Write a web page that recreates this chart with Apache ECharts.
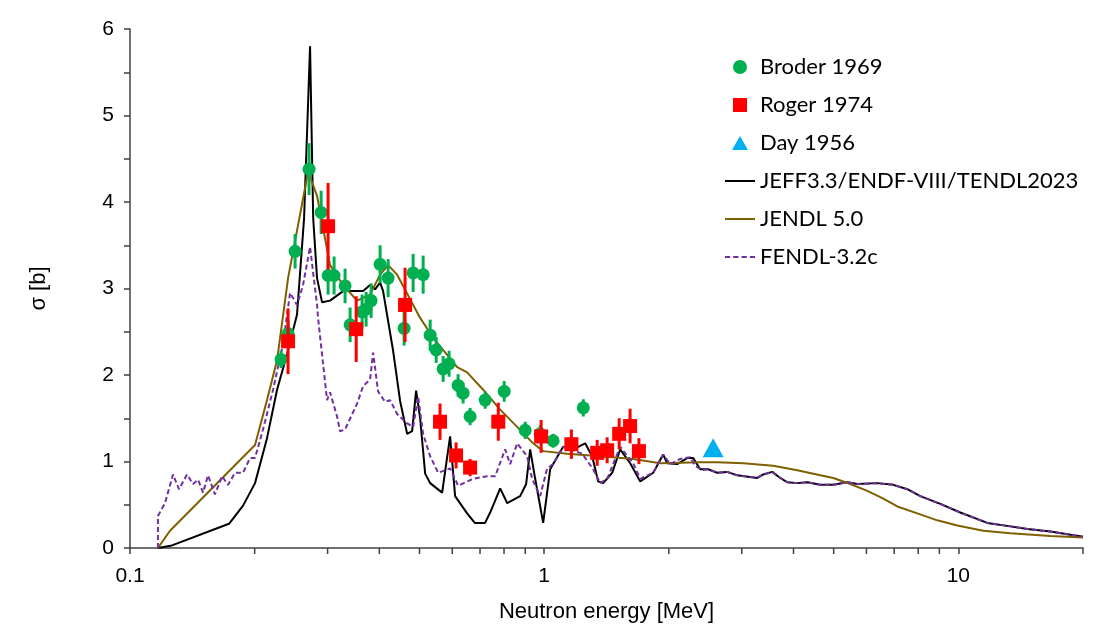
<!DOCTYPE html>
<html>
<head>
<meta charset="utf-8">
<script src="https://cdn.jsdelivr.net/npm/echarts@6/dist/echarts.min.js"></script>
<style>
  html, body { margin: 0; padding: 0; background: #fff; }
  #chart { width: 1098px; height: 628px; }
</style>
</head>
<body>
<div id="chart"></div>
<script>
// energy [MeV], sigma [b], error [b]
const broder1969 = [
  [0.2316, 2.18, 0.10], [0.2408, 2.48, 0.15], [0.2504, 3.43, 0.20], [0.2706, 4.38, 0.30],
  [0.2894, 3.88, 0.25], [0.3008, 3.15, 0.22], [0.3110, 3.15, 0.22], [0.3306, 3.03, 0.20],
  [0.3400, 2.58, 0.20], [0.3634, 2.73, 0.20], [0.3716, 2.76, 0.20], [0.3821, 2.86, 0.20],
  [0.4017, 3.28, 0.22], [0.4200, 3.12, 0.22], [0.4590, 2.54, 0.20], [0.4826, 3.18, 0.22],
  [0.5103, 3.16, 0.22], [0.5306, 2.46, 0.18], [0.5486, 2.29, 0.15], [0.5702, 2.07, 0.15],
  [0.5895, 2.13, 0.15], [0.6197, 1.88, 0.13], [0.6372, 1.79, 0.12], [0.6625, 1.52, 0.10],
  [0.7204, 1.71, 0.10], [0.8008, 1.81, 0.12], [0.8997, 1.36, 0.10], [0.9779, 1.32, 0.10],
  [1.051, 1.24, 0.08], [1.243, 1.62, 0.10]
];
const roger1974 = [
  [0.2408, 2.39, 0.38], [0.3008, 3.72, 0.50], [0.3517, 2.53, 0.38], [0.4615, 2.81, 0.43],
  [0.5605, 1.46, 0.21], [0.6128, 1.07, 0.15], [0.6625, 0.93, 0.10], [0.7749, 1.46, 0.22],
  [0.9834, 1.29, 0.19], [1.1634, 1.20, 0.17], [1.3428, 1.10, 0.15], [1.4192, 1.13, 0.15],
  [1.5175, 1.32, 0.18], [1.6124, 1.41, 0.20], [1.6936, 1.12, 0.15]
];
const day1956 = [[2.559, 1.16]];

// evaluated curves above ~2.4 MeV are identical for JEFF and FENDL
const commonTail = [
  [2.4072, 0.90], [2.4890, 0.91], [2.6172, 0.87], [2.7669, 0.88], [2.9255, 0.84],
  [3.2697, 0.81], [3.3806, 0.85], [3.5536, 0.88], [3.7154, 0.81], [3.8637, 0.76],
  [4.0842, 0.75], [4.3178, 0.76], [4.6416, 0.73], [4.9906, 0.73], [5.3951, 0.76],
  [5.7016, 0.74], [6.3740, 0.75], [6.9663, 0.73], [7.5313, 0.68], [8.0955, 0.60],
  [9.0447, 0.51], [10.112, 0.41], [11.749, 0.29], [13.355, 0.25], [14.678, 0.22],
  [16.681, 0.19], [20, 0.13]
];
const jeff33 = [
  [0.1168, 0], [0.1263, 0.03], [0.1734, 0.28], [0.1875, 0.49], [0.2004, 0.75],
  [0.2142, 1.27], [0.2265, 1.83], [0.2394, 2.24], [0.2531, 2.70], [0.2632, 3.81],
  [0.2721, 5.80], [0.2769, 3.81], [0.2829, 3.12], [0.2909, 2.84], [0.3041, 2.86],
  [0.3270, 2.97], [0.3534, 2.97], [0.3654, 2.97], [0.3799, 3.04], [0.3907, 2.99],
  [0.4017, 3.07], [0.4084, 2.97], [0.4318, 2.28], [0.4489, 1.70], [0.4668, 1.32],
  [0.4799, 1.35], [0.4907, 1.82], [0.5018, 1.50], [0.5160, 0.86], [0.5305, 0.75],
  [0.5671, 0.64], [0.5928, 1.29], [0.6095, 0.60], [0.6516, 0.40], [0.6800, 0.29],
  [0.7200, 0.29], [0.7407, 0.41], [0.7830, 0.69], [0.8140, 0.52], [0.8750, 0.60],
  [0.9047, 0.74], [0.9251, 1.14], [0.9513, 0.80], [0.9945, 0.29], [1.0339, 0.91],
  [1.0513, 0.97], [1.1113, 1.17], [1.1749, 1.14], [1.2560, 1.21], [1.3060, 1.06],
  [1.3503, 0.77], [1.3884, 0.75], [1.4598, 0.87], [1.5262, 1.14], [1.6134, 0.98],
  [1.7060, 0.77], [1.8336, 0.87], [1.9382, 1.08], [1.9820, 0.98], [2.0953, 0.97],
  [2.2148, 1.04], [2.2900, 1.04], [2.3807, 0.91]
].concat(commonTail);
const jendl50 = [
  [0.1168, 0], [0.1249, 0.20], [0.2004, 1.19], [0.2142, 1.71], [0.2265, 2.17],
  [0.2408, 3.12], [0.2692, 4.35], [0.2829, 4.07], [0.3041, 3.27], [0.3270, 3.04],
  [0.3534, 2.86], [0.3799, 2.93], [0.4017, 3.16], [0.4200, 3.27], [0.4415, 3.16],
  [0.5018, 2.66], [0.5395, 2.43], [0.6165, 2.09], [0.6516, 2.03], [0.7124, 1.83],
  [0.7830, 1.60], [0.8606, 1.40], [0.9406, 1.21], [0.9945, 1.12], [1.1364, 1.09],
  [1.3655, 1.06], [1.6406, 1.03], [1.9063, 0.98], [2.3807, 0.99], [2.6172, 0.99],
  [3.0248, 0.98], [3.5734, 0.95], [4.0842, 0.90], [4.6416, 0.84], [4.9906, 0.81],
  [5.4856, 0.74], [6.0282, 0.66], [6.5905, 0.57], [7.1236, 0.48], [7.9616, 0.40],
  [8.8953, 0.32], [9.9449, 0.26], [11.492, 0.20], [13.355, 0.17], [16.681, 0.14],
  [20, 0.12]
];
const fendl32c = [
  [0.1168, 0], [0.1168, 0.37], [0.1215, 0.52], [0.1270, 0.85], [0.1313, 0.68],
  [0.1373, 0.85], [0.1420, 0.74], [0.1460, 0.79], [0.1501, 0.64], [0.1543, 0.84],
  [0.1604, 0.62], [0.1668, 0.83], [0.1725, 0.73], [0.1793, 0.87], [0.1875, 0.87],
  [0.1949, 1.04], [0.2004, 1.04], [0.2095, 1.37], [0.2215, 1.83], [0.2342, 2.36],
  [0.2435, 2.95], [0.2462, 2.93], [0.2531, 2.81], [0.2617, 3.04], [0.2721, 3.48],
  [0.2829, 2.81], [0.2845, 2.66], [0.2925, 2.13], [0.2991, 1.71], [0.3041, 1.80],
  [0.3162, 1.52], [0.3215, 1.35], [0.3306, 1.37], [0.3534, 1.67], [0.3654, 1.87],
  [0.3799, 1.95], [0.3864, 2.26], [0.3972, 1.81], [0.4130, 1.69], [0.4246, 1.71],
  [0.4415, 1.55], [0.4668, 1.44], [0.4826, 1.40], [0.4962, 1.75], [0.5102, 1.32],
  [0.5305, 1.06], [0.5547, 0.87], [0.5928, 0.92], [0.6199, 0.72], [0.6738, 0.80],
  [0.7284, 0.83], [0.7615, 0.83], [0.8050, 1.14], [0.8278, 0.97], [0.8606, 1.21],
  [0.9097, 1.06], [0.9354, 0.80], [0.9779, 0.60], [1.0167, 0.92], [1.0513, 0.97],
  [1.1113, 1.17], [1.2353, 1.09], [1.3135, 0.91], [1.3655, 0.75], [1.4197, 0.80],
  [1.5262, 1.17], [1.6406, 0.98], [1.7060, 0.80], [1.8336, 0.87], [1.9382, 1.08],
  [2.0150, 0.97], [2.1306, 1.03], [2.2523, 1.05], [2.3156, 0.95]
].concat(commonTail);

const minorTicksX = [0.2, 0.3, 0.4, 0.5, 0.6, 0.7, 0.8, 0.9, 2, 3, 4, 5, 6, 7, 8, 9];

const axisColor = '#404040';
const labelFont = 'Liberation Sans, Arial, sans-serif';
const legendFont = 'Lato, sans-serif';

function errorBars(color) {
  return function (params, api) {
    const lo = api.coord([api.value(0), api.value(1) - api.value(2)]);
    const hi = api.coord([api.value(0), api.value(1) + api.value(2)]);
    return {
      type: 'line',
      shape: { x1: lo[0], y1: lo[1], x2: hi[0], y2: hi[1] },
      style: { stroke: color, lineWidth: 3 }
    };
  };
}

let chart = echarts.init(document.getElementById('chart'));
const option = {
  animation: false,
  grid: { left: 130, right: 15, top: 29, bottom: 76 },
  legend: {
    orient: 'vertical',
    left: 725,
    top: 55,
    padding: 0,
    itemWidth: 30,
    itemHeight: 14,
    itemGap: 14,
    textStyle: { fontFamily: legendFont, fontSize: 22, color: '#000', lineHeight: 24 },
    data: [
      { name: 'Broder 1969', icon: 'circle', itemStyle: { color: '#00B050' } },
      { name: 'Roger 1974', icon: 'path://M0,0H14V14H0Z', itemStyle: { color: '#FF0000' } },
      { name: 'Day 1956', icon: 'path://M8,0L16,14L0,14Z', itemStyle: { color: '#00B0F0' } },
      { name: 'JEFF3.3/ENDF-VIII/TENDL2023', icon: 'path://M0,0H30V2H0Z', itemStyle: { color: '#000000' } },
      { name: 'JENDL 5.0', icon: 'path://M0,0H30V2H0Z', itemStyle: { color: '#7F6000' } },
      { name: 'FENDL-3.2c', icon: 'path://M0,0H5V2H0Z M8,0H13V2H8Z M16,0H21V2H16Z M24,0H29V2H24Z', itemStyle: { color: '#7030A0' } }
    ]
  },
  xAxis: {
    type: 'log',
    logBase: 10,
    min: 0.1,
    max: 20,
    name: 'Neutron energy [MeV]',
    nameLocation: 'middle',
    nameGap: 53,
    nameTextStyle: { fontFamily: labelFont, fontSize: 22, color: '#000' },
    axisLine: { onZero: false, lineStyle: { color: axisColor, width: 1.5 } },
    axisTick: { show: true, length: 6, lineStyle: { color: axisColor, width: 1.5 } },
    minorTick: { show: false },
    splitLine: { show: false },
    axisLabel: {
      fontFamily: labelFont, fontSize: 21, color: '#000', margin: 18,
      formatter: function (v) {
        const l = Math.log10(v);
        return Math.abs(l - Math.round(l)) < 1e-6 ? String(Math.pow(10, Math.round(l))) : '';
      }
    }
  },
  yAxis: {
    type: 'value',
    min: 0,
    max: 6,
    interval: 1,
    name: 'σ [b]',
    nameLocation: 'middle',
    nameGap: 80,
    nameTextStyle: { fontFamily: labelFont, fontSize: 22, color: '#000' },
    axisLine: { show: true, onZero: false, lineStyle: { color: axisColor, width: 1.5 } },
    axisTick: { show: true, length: 6, lineStyle: { color: axisColor, width: 1.5 } },
    minorTick: { show: true, splitNumber: 2, length: 6, lineStyle: { color: axisColor, width: 1.5 } },
    splitLine: { show: false },
    axisLabel: { fontFamily: labelFont, fontSize: 21, color: '#000', margin: 16 }
  },
  series: [
    {
      name: 'minorTicks',
      type: 'custom',
      clip: false,
      silent: true,
      data: minorTicksX.map(v => [v, 0]),
      renderItem: function (params, api) {
        const p = api.coord([api.value(0), 0]);
        return {
          type: 'line',
          shape: { x1: p[0], y1: p[1], x2: p[0], y2: p[1] + 6 },
          style: { stroke: axisColor, lineWidth: 1.5 }
        };
      }
    },
    {
      name: 'JEFF3.3/ENDF-VIII/TENDL2023',
      type: 'line',
      data: jeff33,
      symbol: 'none',
      lineStyle: { color: '#000000', width: 2 },
      itemStyle: { color: '#000000' },
      z: 2
    },
    {
      name: 'JENDL 5.0',
      type: 'line',
      data: jendl50,
      symbol: 'none',
      lineStyle: { color: '#7F6000', width: 2 },
      itemStyle: { color: '#7F6000' },
      z: 3
    },
    {
      name: 'FENDL-3.2c',
      type: 'line',
      data: fendl32c,
      symbol: 'none',
      lineStyle: { color: '#7030A0', width: 2, type: [5, 3] },
      itemStyle: { color: '#7030A0' },
      z: 4
    },
    {
      name: 'Broder 1969 error',
      type: 'custom',
      data: broder1969,
      itemStyle: { color: '#00B050' },
      renderItem: errorBars('#00B050'),
      z: 5
    },
    {
      name: 'Broder 1969',
      type: 'scatter',
      data: broder1969.map(d => [d[0], d[1]]),
      symbol: 'circle',
      symbolSize: 13,
      itemStyle: { color: '#00B050', opacity: 1 },
      z: 6
    },
    {
      name: 'Roger 1974 error',
      type: 'custom',
      data: roger1974,
      itemStyle: { color: '#FF0000' },
      renderItem: errorBars('#FF0000'),
      z: 7
    },
    {
      name: 'Roger 1974',
      type: 'scatter',
      data: roger1974.map(d => [d[0], d[1]]),
      symbol: 'rect',
      symbolSize: 14,
      itemStyle: { color: '#FF0000', opacity: 1 },
      z: 8
    },
    {
      name: 'Day 1956',
      type: 'scatter',
      data: day1956,
      symbol: 'triangle',
      symbolSize: [21, 19],
      itemStyle: { color: '#00B0F0', opacity: 1 },
      z: 9
    }
  ]
};
chart.setOption(option);
window.addEventListener('resize', () => {
  chart.resize();
});
</script>
</body>
</html>
